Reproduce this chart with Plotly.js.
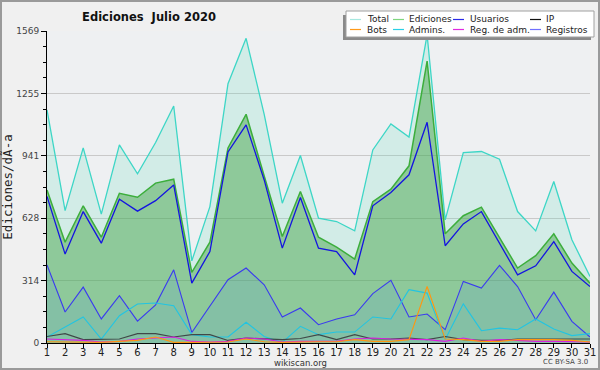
<!DOCTYPE html>
<html>
<head>
<meta charset="utf-8">
<script src="https://cdn.plot.ly/plotly-3.0.1.min.js"></script>
<style>html,body{margin:0;padding:0;background:#f0f0f0;}#chart{width:600px;height:370px;}</style>
</head>
<body>
<div id="chart"></div>
<script>
const days = [1,2,3,4,5,6,7,8,9,10,11,12,13,14,15,16,17,18,19,20,21,22,23,24,25,26,27,28,29,30,31];
const total     = [1172,666,981,648,996,851,1008,1192,413,686,1304,1532,1150,703,943,628,611,564,971,1102,1036,1550,619,958,963,924,661,564,812,519,335];
const ediciones = [770,507,690,532,753,733,804,824,355,507,981,1150,840,536,762,532,482,422,711,774,891,1418,549,640,683,532,377,439,549,402,301];
const usuarios  = [737,447,661,502,723,663,716,795,301,460,961,1097,820,477,732,477,460,343,690,757,846,1110,489,599,661,502,343,388,510,360,284];
const registros = [393,156,281,121,238,110,192,368,53,184,318,377,293,131,176,92,121,142,248,315,131,146,67,310,276,390,284,117,256,109,30];
const admins    = [30,80,131,20,137,196,201,187,42,30,30,104,33,3,84,42,55,55,131,121,268,251,17,197,62,75,67,121,70,37,47];
const ip        = [33,47,17,17,20,47,47,30,42,42,13,25,20,17,23,42,17,42,20,20,25,17,33,17,13,13,20,20,20,20,20];
const regAdm    = [20,17,13,5,8,20,25,30,8,5,8,25,20,5,8,8,8,20,25,20,17,17,8,25,8,17,13,8,8,5,5];
const bots      = [6,6,6,3,8,13,30,3,3,3,5,20,6,3,6,6,6,17,8,8,17,284,20,17,8,8,17,17,17,13,5];

const yTickLabels = ['0','314','628','941','1255','1569'];
const yMax = 1569;

const legendNames  = ['Total','Ediciones','Usuarios','IP','Bots','Admins.','Reg. de adm.','Registros'];
const legendColors = ['#a6e8e0','#7fd67f','#2a2ae8','#111111','#ff9a1a','#2ad0e6','#e02ae0','#7070ff'];

const font = 'DejaVu Sans, Verdana, sans-serif';

function ln(y, color, width, fill, fillcolor) {
  const t = {x: days, y: y, type: 'scatter', mode: 'lines', line: {color: color, width: width}, showlegend: false, hoverinfo: 'skip'};
  if (fill) { t.fill = 'tozeroy'; t.fillcolor = fillcolor; }
  return t;
}

const traces = [
  ln(total, '#3dd6c6', 1.3, true, 'rgba(100,220,190,0.2)'),
  ln(ediciones, '#3cae3c', 1.5, true, 'rgba(60,160,60,0.45)'),
  ln(usuarios, '#1414e0', 1.3),
  ln(registros, '#3a3af0', 1.1, true, 'rgba(80,140,230,0.15)'),
  ln(admins, '#22c4e2', 1.1),
  ln(ip, '#404848', 1.1),
  ln(regAdm, '#d820e0', 1.1),
  ln(bots, '#ff9610', 1.1)
];

// pixel -> paper helpers (plot area: x 47..590, y 31..343)
const L = 47, R = 590, T = 31, B = 343;
const px = v => (v - L) / (R - L);
const py = v => (B - v) / (B - T);

const shapes = [
  {type:'rect', xref:'paper', yref:'paper', x0:px(1), x1:px(599), y0:py(1), y1:py(369), line:{color:'#9a9a9a', width:2}, layer:'above'},
  {type:'rect', xref:'paper', yref:'paper', x0:px(343), x1:px(591), y0:py(15), y1:py(40), fillcolor:'#8a8a8a', line:{width:0}, layer:'above'},
  {type:'rect', xref:'paper', yref:'paper', x0:px(346), x1:px(594), y0:py(11), y1:py(37), fillcolor:'#ffffff', line:{color:'#a0a0a0', width:1}, layer:'above'}
];
const annotations = [];
const colLine = [350, 393, 453, 530];
const colText = [365, 407, 468, 544];
const rowY = [19.5, 29.5];
legendNames.forEach((name, i) => {
  const c = i % 4, r = Math.floor(i / 4);
  shapes.push({type:'line', xref:'paper', yref:'paper', x0:px(colLine[c]), x1:px(colLine[c] + 11), y0:py(rowY[r]), y1:py(rowY[r]), line:{color:legendColors[i], width:1.2}, layer:'above'});
  annotations.push({xref:'paper', yref:'paper', x:px(colText[c]), y:py(rowY[r]), xanchor:'left', yanchor:'middle', text:name, showarrow:false, font:{family:font, size:9, color:'#222'}});
});
annotations.push({xref:'paper', yref:'paper', x:px(300), y:py(363), xanchor:'center', yanchor:'middle', text:'wikiscan.org', showarrow:false, font:{family:font, size:8.5, color:'#333'}});
annotations.push({xref:'paper', yref:'paper', x:px(565), y:py(362), xanchor:'center', yanchor:'middle', text:'CC BY-SA 3.0', showarrow:false, font:{family:font, size:7, color:'#444'}});

const tickVals = yTickLabels.map((_, i) => yMax * i / (yTickLabels.length - 1));
const minorVals = [];
for (let k = 0; k <= 20; k++) minorVals.push(yMax * k / 20);

const layout = {
  width: 600, height: 370,
  margin: {l: L, r: 600 - R, t: T, b: 370 - B, pad: 0},
  paper_bgcolor: '#f0f0f0',
  plot_bgcolor: '#eef0f2',
  title: {text: '<b>Ediciones&nbsp;&nbsp;Julio 2020</b>', x: 149/600, xanchor: 'center', xref: 'container', y: 1 - 17/370, yref: 'container', yanchor: 'middle', font: {family: font, size: 11.5, color: '#111'}},
  xaxis: {
    range: [1, 31], tickmode: 'array', tickvals: days, ticktext: days.map(String),
    ticks: 'outside', ticklen: 4, tickcolor: '#000', showline: true, linecolor: '#000', linewidth: 1,
    showgrid: false, zeroline: false, tickfont: {family: font, size: 10, color: '#222'}, ticklabelstandoff: -4, fixedrange: true
  },
  yaxis: {
    range: [0, yMax], tickmode: 'array', tickvals: tickVals, ticktext: yTickLabels,
    ticks: 'outside', ticklen: 5, tickcolor: '#000', showline: true, linecolor: '#000', linewidth: 1,
    showgrid: true, gridcolor: '#c9c9c9', gridwidth: 1, zeroline: false,
    minor: {tickvals: minorVals, ticks: 'outside', ticklen: 3, tickcolor: '#000', showgrid: false},
    tickfont: {family: font, size: 9, color: '#444'},
    title: {text: 'Ediciones/dÃ-a', font: {family: 'DejaVu Sans Mono, monospace', size: 12.5, color: '#222'}, standoff: 6}, fixedrange: true
  },
  shapes: shapes,
  annotations: annotations
};

Plotly.newPlot('chart', traces, layout, {displayModeBar: false, staticPlot: true});
</script>
</body>
</html>
